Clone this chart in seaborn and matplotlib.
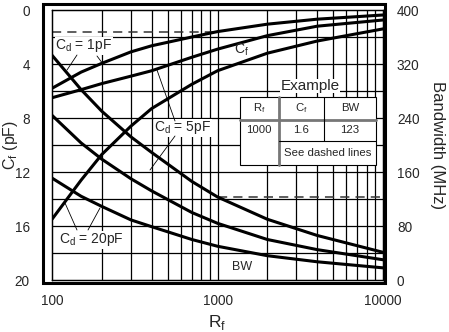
import matplotlib
matplotlib.use("Agg")
import matplotlib.pyplot as plt
import seaborn as sns
import pandas as pd
from matplotlib.patches import Rectangle
from matplotlib.lines import Line2D

sns.set_style("white")
plt.rcParams['font.family'] = ['Liberation Sans', 'DejaVu Sans']

# ---- data ----
rf = [100, 150, 200, 300, 400, 700, 1000, 2000, 4000, 10000]
cf_cd1 = [5.8, 4.6, 3.95, 3.1, 2.65, 2.0, 1.6, 1.05, 0.68, 0.37]
cf_cd5 = [6.5, 5.9, 5.45, 4.9, 4.5, 3.5, 2.9, 1.9, 1.2, 0.74]
cf_cd20 = [15.5, 12.6, 10.7, 8.6, 7.3, 5.5, 4.5, 3.2, 2.3, 1.4]
bw_cd1 = [333, 282, 250, 212, 189, 146, 123, 90, 66, 41]
bw_cd5 = [244, 203, 179, 150, 132, 100, 84, 60, 45, 30]
bw_cd20 = [151, 124, 109, 89, 79, 60, 50, 36, 27, 18]

example_rf = 1000
example_cf = 1.6
example_bw = 123

cf_ticks = [0, 4, 8, 12, 16, 20]
bw_ticks = [0, 80, 160, 240, 320, 400]
rf_ticks = [100, 1000, 10000]

W, H = 449, 332
fig = plt.figure(figsize=(W / 100, H / 100), dpi=100)
L, R, T, B = 52, 383, 10, 280
ax = fig.add_axes([L / W, 1 - B / H, (R - L) / W, (B - T) / H])
ax2 = ax.twinx()

n = len(rf)
cf_df = pd.DataFrame({'Rf': rf * 3, 'Cf': cf_cd1 + cf_cd5 + cf_cd20,
                      'Cd': ['1'] * n + ['5'] * n + ['20'] * n})
bw_df = pd.DataFrame({'Rf': rf * 3, 'BW': bw_cd1 + bw_cd5 + bw_cd20,
                      'Cd': ['1'] * n + ['5'] * n + ['20'] * n})

sns.lineplot(data=cf_df, x='Rf', y='Cf', units='Cd', estimator=None, color='black',
             lw=2.2, ax=ax, legend=False, zorder=3)
sns.lineplot(data=bw_df, x='Rf', y='BW', units='Cd', estimator=None, color='black',
             lw=2.2, ax=ax2, legend=False, zorder=3)

ax.set_xscale('log')
ax.set_xlim(100, 10000)
ax.set_ylim(20, 0)
ax2.set_ylim(0, 400)

# grid
for dec in [100, 1000]:
    for m in range(1, 10):
        v = dec * m
        if 100 < v < 10000:
            ax.axvline(v, color='black', lw=0.9, zorder=1)
for c in range(2, 20, 2):
    ax.axhline(c, color='black', lw=0.9, zorder=1)

# dashed example lines
ax.plot([100, example_rf], [example_cf, example_cf], color='#333333', lw=1.1,
        dashes=(6, 4), zorder=2)
ax2.plot([example_rf, 10000], [example_bw, example_bw], color='#333333', lw=1.1,
         dashes=(6, 4), zorder=2)

ax.set_xticks(rf_ticks)
ax.set_xticklabels([str(v) for v in rf_ticks], fontsize=9.8)
ax.xaxis.set_minor_locator(matplotlib.ticker.NullLocator())
ax.set_yticks(cf_ticks)
ax.set_yticklabels([str(v) for v in cf_ticks], fontsize=9.8)
ax2.set_yticks(bw_ticks)
ax2.set_yticklabels([str(v) for v in bw_ticks], fontsize=9.8)
ax.tick_params(axis='y', length=0, pad=16)
ax.tick_params(axis='x', length=0, pad=10)
ax2.tick_params(length=0, pad=10)
ax.set_xlabel('R$_\\mathregular{f}$', fontsize=12.5, va='center')
ax.xaxis.set_label_coords(0.5, -(322 - 280) / (B - T))
ax.set_ylabel('C$_\\mathregular{f}$ (pF)', fontsize=11.5, va='center')
ax.yaxis.set_label_coords(-(52 - 11) / (R - L), 0.5)
ax2.set_ylabel('Bandwidth (MHz)', fontsize=12, rotation=-90, va='center')
ax2.yaxis.set_label_coords((437 - 52) / (R - L), 0.5)
for a in (ax, ax2):
    for s in a.spines.values():
        s.set_linewidth(0.9)
        s.set_color('black')

# outer thick frame
fig.patches.append(Rectangle((43 / W, 1 - 283 / H), (385 - 43) / W, (283 - 4) / H,
                             transform=fig.transFigure, fill=False, lw=2.2,
                             edgecolor='black', zorder=10))

def ftext(x, y, s, size, **kw):
    fig.text(x / W, 1 - y / H, s, fontsize=size, ha='center', va='center', **kw)

def pxline(x0, y0, x1, y1, lw=0.6, color='black', z=6):
    fig.add_artist(Line2D([x0 / W, x1 / W], [1 - y0 / H, 1 - y1 / H], color=color, lw=lw,
                          transform=fig.transFigure, zorder=z))

tb = dict(facecolor='white', edgecolor='none', pad=0.5)
ftext(241, 50, 'C$_\\mathregular{f}$', 10, zorder=5)
ftext(242, 267, 'BW', 9, zorder=5, bbox=tb)
ftext(84, 46, 'C$_\\mathregular{d}$ = 1pF', 10, zorder=5, bbox=tb)
ftext(183, 128, 'C$_\\mathregular{d}$ = 5pF', 10, zorder=5, bbox=tb)
ftext(91, 240, 'C$_\\mathregular{d}$ = 20pF', 10, zorder=5, bbox=tb)

pxline(77, 55, 67, 70)
pxline(97, 56, 103, 64)
pxline(175, 121, 157, 70)
pxline(175, 136, 150, 170)
pxline(77, 230, 65, 203)
pxline(88, 230, 100, 208)

# example table
ftext(310, 86, 'Example', 11, zorder=8,
      bbox=dict(facecolor='white', edgecolor='none', pad=0.3))

def pxrect(x0, y0, x1, y1, **kw):
    fig.patches.append(Rectangle((x0 / W, 1 - y1 / H), (x1 - x0) / W, (y1 - y0) / H,
                                 transform=fig.transFigure, **kw))

pxrect(240, 97, 376, 165, facecolor='white', edgecolor='black', lw=0.8, zorder=7)
pxline(240, 119.5, 376, 119.5, lw=2.0, color='#777777', z=8)
pxline(279, 97, 279, 165, lw=2.0, color='#777777', z=8)
pxline(324, 97, 324, 141, lw=0.8, z=8)
pxline(279, 141, 376, 141, lw=0.8, z=8)
for x, y, s in [(259, 108, 'R$_\\mathregular{f}$'), (301, 108, 'C$_\\mathregular{f}$'), (350, 108, 'BW'),
                (259, 130, str(example_rf)), (301, 130, str(example_cf)), (350, 130, str(example_bw)),
                (328, 153, 'See dashed lines')]:
    ftext(x, y, s, 8.2, zorder=9)

fig.savefig('out.png', dpi=100)
